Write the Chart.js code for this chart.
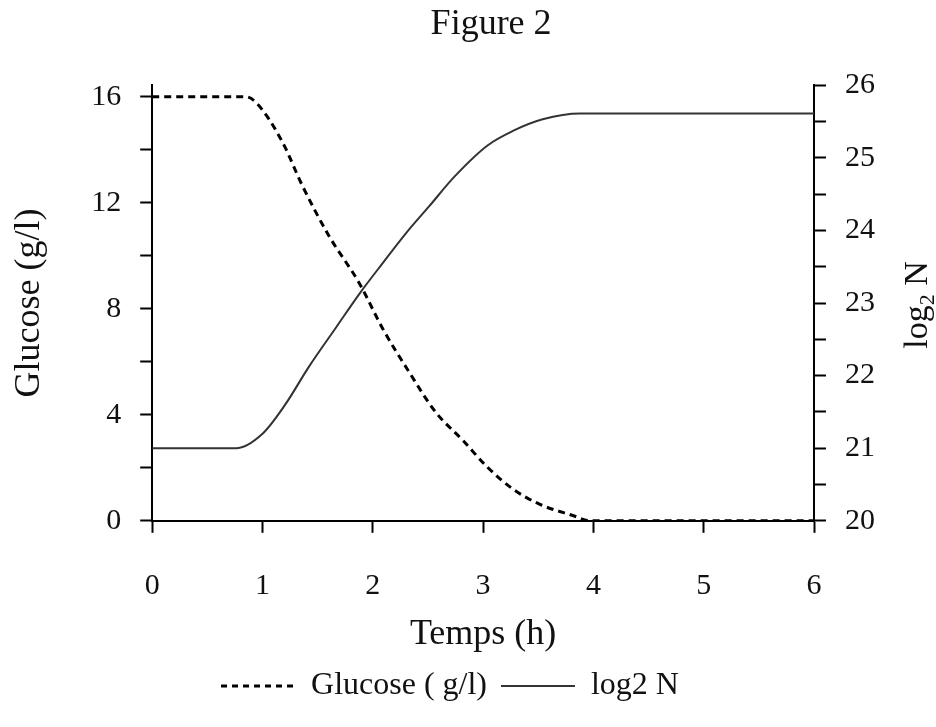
<!DOCTYPE html>
<html>
<head>
<meta charset="utf-8">
<script src="https://cdn.jsdelivr.net/npm/chart.js@4/dist/chart.umd.min.js"></script>
<style>
  html, body { margin: 0; padding: 0; background: #fff; }
  canvas { display: block; }
</style>
</head>
<body>
<canvas id="fig" width="936" height="727"></canvas>
<script>
// temps (h) et glucose (g/l)
const glucoseTimes = [0, 0.85, 0.95, 1.18, 1.36, 1.60, 1.88, 2.09, 2.33, 2.57, 2.82, 3.04, 3.27, 3.51, 3.82, 3.97, 6];
const glucoseValues = [16, 16, 15.75, 14.3, 12.66, 10.77, 8.95, 7.25, 5.61, 4.1, 3.02, 2.02, 1.2, 0.63, 0.19, 0, 0];

// temps (h) et log2 N
const growthTimes = [0, 0.76, 1.0, 1.21, 1.42, 1.67, 1.88, 2.09, 2.30, 2.51, 2.74, 3.04, 3.27, 3.54, 3.88, 6];
const growthValues = [21, 21, 21.2, 21.61, 22.12, 22.67, 23.13, 23.55, 23.96, 24.33, 24.74, 25.17, 25.37, 25.53, 25.61, 25.61];

const xTicks = [0, 1, 2, 3, 4, 5, 6];

const serif = '"Liberation Serif", "Times New Roman", serif';

const toPoints = (xs, ys) => xs.map((x, i) => ({ x: x, y: ys[i] }));

// titre de l'axe de droite, écrit de bas en haut avec l'indice 2
const rightTitle = {
    id: 'rightTitle',
    afterLayout(chart) {
        // le titre est un peu décalé vers la droite sur l'original
        chart.titleBlock.left += 8;
        chart.titleBlock.right += 8;
    },
    afterDraw(chart) {
        const ctx = chart.ctx;
        ctx.save();
        ctx.translate(927, 305);
        ctx.rotate(-Math.PI / 2);
        ctx.fillStyle = '#111';
        ctx.textBaseline = 'alphabetic';
        ctx.textAlign = 'left';
        const big = '34px ' + serif;
        const small = '22px ' + serif;
        ctx.font = big;
        const w1 = ctx.measureText('log').width;
        const w3 = ctx.measureText(' N').width;
        ctx.font = small;
        const w2 = ctx.measureText('2').width;
        let x = -(w1 + w2 + w3) / 2;
        ctx.font = big;
        ctx.fillText('log', x, 0);
        x += w1;
        ctx.font = small;
        ctx.fillText('2', x, 7);
        x += w2;
        ctx.font = big;
        ctx.fillText(' N', x, 0);
        ctx.restore();
    }
};

const ctx = document.getElementById('fig').getContext('2d');
const fig2 = new Chart(ctx, {
    type: 'line',
    data: {
        datasets: [
            {
                label: 'Glucose ( g/l)',
                data: toPoints(glucoseTimes, glucoseValues),
                yAxisID: 'y',
                borderColor: '#000',
                borderWidth: 3,
                borderDash: [7, 5],
                pointRadius: 0,
                cubicInterpolationMode: 'monotone',
                fill: false
            },
            {
                label: 'log2 N',
                data: toPoints(growthTimes, growthValues),
                yAxisID: 'y1',
                borderColor: '#333',
                borderWidth: 2,
                pointRadius: 0,
                cubicInterpolationMode: 'monotone',
                fill: false
            }
        ]
    },
    options: {
        responsive: false,
        animation: false,
        layout: {
            padding: { top: 1, left: 6, right: 42, bottom: 15 }
        },
        scales: {
            x: {
                type: 'linear',
                min: 0,
                max: 6,
                afterBuildTicks: (axis) => { axis.ticks = xTicks.map(v => ({ value: v })); },
                grid: { drawOnChartArea: false, color: '#000', tickLength: 12, tickWidth: 2 },
                border: { display: true, color: '#000', width: 2 },
                ticks: {
                    color: '#111',
                    padding: 35,
                    font: { family: serif, size: 30 }
                },
                title: {
                    display: true,
                    text: 'Temps (h)',
                    color: '#111',
                    font: { family: serif, size: 36 },
                    padding: { top: -26, bottom: 0 }
                }
            },
            y: {
                position: 'left',
                min: 0,
                max: 16.44,
                grid: { drawOnChartArea: false, color: '#000', tickLength: 12, tickWidth: 2 },
                border: { display: true, color: '#000', width: 2 },
                ticks: {
                    stepSize: 2,
                    includeBounds: false,
                    autoSkip: false,
                    color: '#111',
                    padding: 19,
                    font: { family: serif, size: 30 },
                    callback: (v) => (v % 4 === 0 ? v : '')
                },
                title: {
                    display: true,
                    text: 'Glucose (g/l)',
                    color: '#111',
                    font: { family: serif, size: 36 },
                    padding: { top: 2, bottom: 21 }
                }
            },
            y1: {
                position: 'right',
                min: 20,
                max: 26,
                grid: { drawOnChartArea: false, color: '#000', tickLength: 12, tickWidth: 2 },
                border: { display: true, color: '#000', width: 2 },
                ticks: {
                    stepSize: 0.5,
                    autoSkip: false,
                    color: '#111',
                    padding: 19,
                    font: { family: serif, size: 30 },
                    callback: (v) => (Number.isInteger(v) ? v : '')
                }
            }
        },
        plugins: {
            title: {
                display: true,
                text: 'Figure 2',
                fullSize: false,
                color: '#111',
                font: { family: serif, size: 36, weight: 'normal' },
                padding: { top: 2, bottom: 39 }
            },
            legend: {
                position: 'bottom',
                labels: {
                    usePointStyle: true,
                    pointStyle: 'line',
                    pointStyleWidth: 74,
                    padding: 14,
                    color: '#111',
                    font: { family: serif, size: 32 },
                    generateLabels: (chart) => Chart.defaults.plugins.legend.labels.generateLabels(chart).map((item) => {
                        const ds = chart.data.datasets[item.datasetIndex];
                        item.lineDash = ds.borderDash ? [6, 5] : [];
                        item.lineWidth = ds.borderWidth;
                        return item;
                    })
                }
            },
            tooltip: { enabled: false }
        }
    },
    plugins: [rightTitle]
});
</script>
</body>
</html>
